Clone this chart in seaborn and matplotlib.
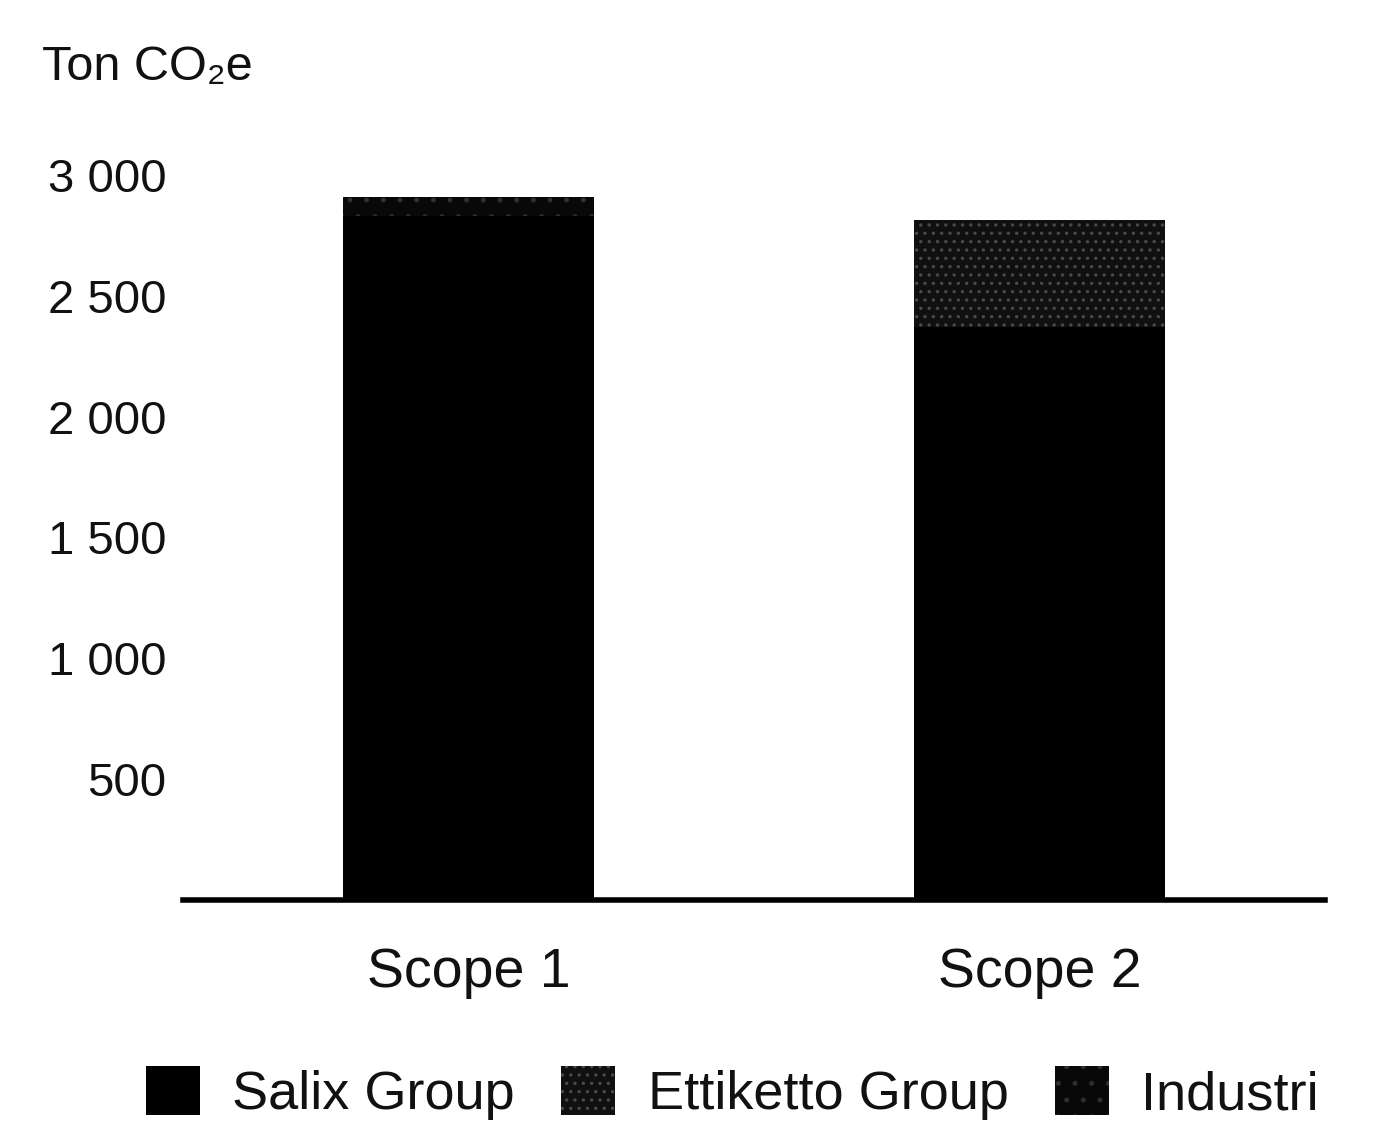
import pandas as pd
import matplotlib
matplotlib.use("Agg")
import matplotlib.pyplot as plt
import seaborn as sns
from matplotlib.patches import Patch
from matplotlib.ticker import FuncFormatter

scopes = ["Scope 1", "Scope 2"]
salix = [2830, 2370]
ettiketto = [0, 445]
industri = [80, 0]
groups = ["Salix Group", "Ettiketto Group", "Industri"]
yticks = [500, 1000, 1500, 2000, 2500, 3000]

sns.set_theme(style="white")
plt.rcParams["font.family"] = ["Liberation Sans", "DejaVu Sans"]
plt.rcParams["hatch.linewidth"] = 1.2

df = pd.DataFrame({"Scope": scopes, "Salix": salix, "Ettiketto": ettiketto, "Industri": industri})
df["s1"] = df["Salix"]
df["s2"] = df["s1"] + df["Ettiketto"]
df["s3"] = df["s2"] + df["Industri"]

fig = plt.figure(figsize=(13.84, 11.26), dpi=100)
ax = fig.add_axes([183 / 1384, 1 - 900 / 1126, 1142 / 1384, 725 / 1126])

# stacked bars: draw totals first, then overlay lower segments
styles = [
    ("s3", "#080808", "#2e2e2e", "."),
    ("s2", "#101010", "#4a4a4a", ".."),
    ("s1", "#000000", "#000000", None),
]
for col, fc, hc, hatch in styles:
    sns.barplot(data=df, x="Scope", y=col, color=fc, width=0.44, ax=ax,
                edgecolor=hc, linewidth=0, hatch=hatch, saturation=1)

ax.set_ylim(0, 3000)
ax.set_xlim(-0.5, 1.5)
ax.set_yticks(yticks)
ax.yaxis.set_major_formatter(FuncFormatter(lambda v, p: f"{int(v):,}".replace(",", " ")))
ax.set_xlabel("")
ax.set_ylabel("")
ax.tick_params(axis="y", labelsize=34, length=0, pad=12, colors="#111111")
ax.tick_params(axis="x", labelsize=40, length=0, pad=34, colors="#111111")
for side in ["left", "right", "top"]:
    ax.spines[side].set_visible(False)
ax.spines["bottom"].set_color("black")
ax.spines["bottom"].set_linewidth(4)
ax.grid(False)

fig.text(42 / 1384, 1 - 68 / 1126, "Ton CO\u2082e", fontsize=35, va="center", ha="left", color="#111111")

handles = [
    Patch(facecolor="#000000", edgecolor="#000000", linewidth=0),
    Patch(facecolor="#101010", edgecolor="#4a4a4a", linewidth=0, hatch=".."),
    Patch(facecolor="#080808", edgecolor="#2e2e2e", linewidth=0, hatch="."),
]
fig.legend(handles, groups, loc="lower left", bbox_to_anchor=(124 / 1384, -0.014),
           ncol=3, frameon=False, fontsize=39, handlelength=1.0, handleheight=1.0,
           handletextpad=0.6, columnspacing=0.85, borderaxespad=0, labelcolor="#111111")

fig.savefig("out.png", dpi=100)
